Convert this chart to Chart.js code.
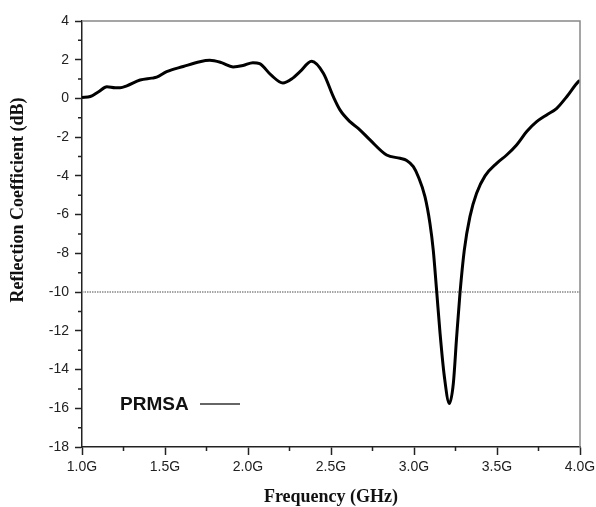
<!DOCTYPE html>
<html>
<head>
<meta charset="utf-8">
<script src="https://cdn.jsdelivr.net/npm/chart.js@4"></script>
<style>
  html, body { margin: 0; padding: 0; background: #fff; }
  #wrap { width: 596px; height: 507px; }
</style>
</head>
<body>
<div id="wrap"><canvas id="chart"></canvas></div>
<script>
// ---- data ----
const freq = [1.00, 1.05, 1.10, 1.15, 1.20, 1.23, 1.27, 1.35, 1.42, 1.45, 1.51, 1.61, 1.71, 1.77,
  1.84, 1.91, 1.97, 2.03, 2.07, 2.14, 2.21, 2.27, 2.313, 2.383, 2.454, 2.514, 2.554, 2.614, 2.664,
  2.735, 2.835, 2.916, 2.956, 2.996, 3.026, 3.066, 3.096, 3.116, 3.136, 3.157, 3.183, 3.213,
  3.237, 3.257, 3.277, 3.303, 3.337, 3.377, 3.428, 3.498, 3.558, 3.618, 3.679, 3.739, 3.799, 3.86, 3.92, 3.99, 4.00];
const s11 = [0.05, 0.1, 0.35, 0.6, 0.55, 0.55, 0.65, 0.95, 1.05, 1.1, 1.38, 1.65, 1.9, 1.97,
  1.85, 1.63, 1.7, 1.85, 1.8, 1.2, 0.8, 1.05, 1.38, 1.92, 1.3, 0.09, -0.59, -1.2, -1.54,
  -2.14, -2.92, -3.09, -3.2, -3.52, -4.04, -5.07, -6.45, -7.83, -9.89, -12.13, -14.37, -15.75,
  -14.71, -12.3, -10.06, -7.83, -6.1, -4.9, -4.0, -3.35, -2.92, -2.4, -1.71, -1.2, -0.85, -0.51, 0.09, 0.87, 0.93];

const refLevel = -10;
const seriesName = 'PRMSA';

const xTicks = [1.0, 1.5, 2.0, 2.5, 3.0, 3.5, 4.0];
const xTickLabels = ['1.0G', '1.5G', '2.0G', '2.5G', '3.0G', '3.5G', '4.0G'];
const xMinor = [1.25, 1.75, 2.25, 2.75, 3.25, 3.75];
const yTicks = [4, 2, 0, -2, -4, -6, -8, -10, -12, -14, -16, -18];
const yTickLabels = ['4', '2', '0', '-2', '-4', '-6', '-8', '-10', '-12', '-14', '-16', '-18'];
const yMinor = [3, 1, -1, -3, -5, -7, -9, -11, -13, -15, -17];

const xTitle = 'Frequency (GHz)';
const yTitle = 'Reflection Coefficient (dB)';

// ---- extra drawing: frame, minor ticks, titles, legend ----
const decorPlugin = {
  id: 'decor',
  afterDraw(chart) {
    const { ctx, chartArea: a, scales } = chart;
    ctx.save();

    // top / right frame lines
    ctx.strokeStyle = '#888';
    ctx.lineWidth = 1.5;
    ctx.beginPath();
    ctx.moveTo(a.left, a.top);
    ctx.lineTo(a.right, a.top);
    ctx.lineTo(a.right, a.bottom);
    ctx.stroke();

    // minor ticks
    ctx.strokeStyle = '#222';
    ctx.lineWidth = 1.5;
    ctx.beginPath();
    xMinor.forEach((v) => {
      const px = scales.x.getPixelForValue(v);
      ctx.moveTo(px, a.bottom);
      ctx.lineTo(px, a.bottom + 4);
    });
    yMinor.forEach((v) => {
      const py = scales.y.getPixelForValue(v);
      ctx.moveTo(a.left, py);
      ctx.lineTo(a.left - 4, py);
    });
    ctx.stroke();

    // axis titles
    ctx.fillStyle = '#111';
    ctx.font = 'bold 18px "Liberation Serif", "Times New Roman", serif';
    ctx.textAlign = 'center';
    ctx.textBaseline = 'middle';
    ctx.fillText(xTitle, (a.left + a.right) / 2, 497);
    ctx.save();
    ctx.translate(18, 200);
    ctx.rotate(-Math.PI / 2);
    ctx.fillText(yTitle, 0, 0);
    ctx.restore();

    // legend inside the plot
    ctx.font = 'bold 19px "Liberation Sans", Arial, sans-serif';
    ctx.textAlign = 'left';
    ctx.fillStyle = '#111';
    ctx.fillText(seriesName, 120, 405);
    ctx.strokeStyle = '#666';
    ctx.lineWidth = 2;
    ctx.beginPath();
    ctx.moveTo(200, 404);
    ctx.lineTo(240, 404);
    ctx.stroke();

    ctx.restore();
  }
};

const tickFont = { family: '"Liberation Sans", Arial, sans-serif', size: 14 };

new Chart(document.getElementById('chart'), {
  type: 'line',
  data: {
    datasets: [
      {
        data: freq.map((f, i) => ({ x: f, y: s11[i] })),
        borderColor: '#000',
        borderWidth: 3,
        pointRadius: 0,
        cubicInterpolationMode: 'monotone',
        fill: false
      },
      {
        data: [{ x: xTicks[0], y: refLevel }, { x: xTicks[xTicks.length - 1], y: refLevel }],
        borderColor: '#888',
        borderWidth: 1.5,
        borderDash: [1.5, 1],
        pointRadius: 0,
        fill: false
      }
    ]
  },
  options: {
    responsive: true,
    maintainAspectRatio: false,
    animation: false,
    layout: { padding: { top: 21, right: 16, left: 0, bottom: 0 } },
    plugins: {
      legend: { display: false },
      tooltip: { enabled: false }
    },
    scales: {
      x: {
        type: 'linear',
        min: 1,
        max: 4,
        afterBuildTicks: (s) => { s.ticks = xTicks.map((v) => ({ value: v })); },
        afterFit: (s) => { s.height = 60; s.paddingRight = 0; s.paddingLeft = 0; },
        ticks: {
          color: '#222',
          font: tickFont,
          padding: 4,
          maxRotation: 0,
          callback: (v, i) => xTickLabels[i]
        },
        grid: { drawOnChartArea: false, tickLength: 8, tickColor: '#222', tickWidth: 1.5 },
        border: { color: '#222', width: 1.5 }
      },
      y: {
        min: -18,
        max: 4,
        afterBuildTicks: (s) => { s.ticks = yTicks.map((v) => ({ value: v })); },
        afterFit: (s) => { s.width = 82; s.paddingTop = 0; s.paddingBottom = 0; },
        ticks: {
          color: '#222',
          font: tickFont,
          padding: 6,
          callback: (v, i) => yTickLabels[i]
        },
        grid: { drawOnChartArea: false, tickLength: 7, tickColor: '#222', tickWidth: 1.5 },
        border: { color: '#222', width: 1.5 }
      }
    }
  },
  plugins: [decorPlugin]
});
</script>
</body>
</html>
